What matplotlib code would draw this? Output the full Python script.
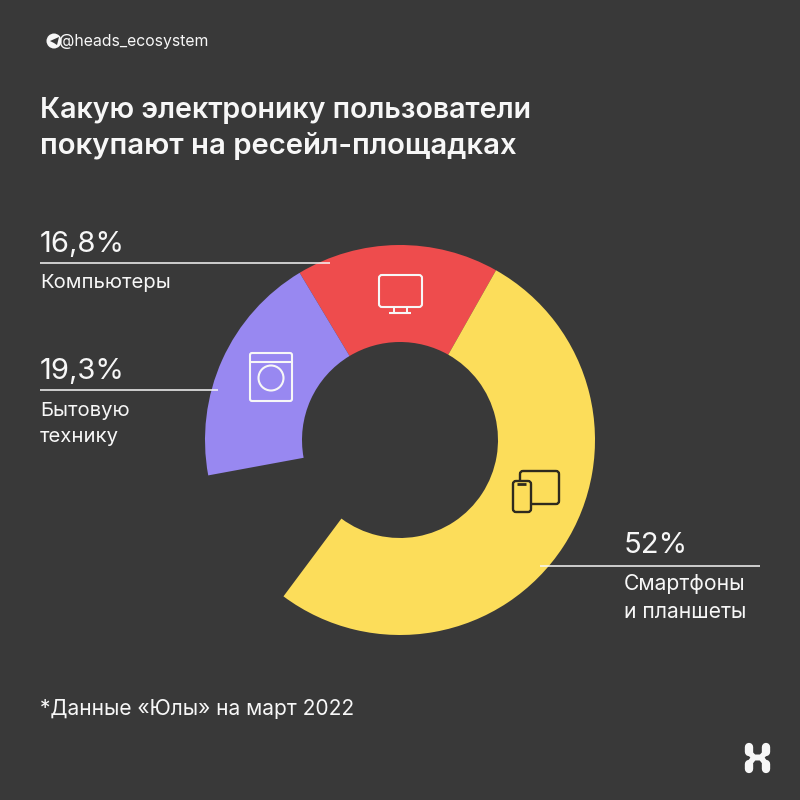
import matplotlib.pyplot as plt
from matplotlib.patches import Circle, FancyBboxPatch, Polygon

plt.rcParams['font.family'] = ['Inter', 'DejaVu Sans']

# shares in percent, the rest of the ring is left empty
categories = ['Компьютеры', 'Бытовую\nтехнику', 'Смартфоны\nи планшеты']
values = [16.8, 19.3, 52]
value_labels = ['16,8%', '19,3%', '52%']
colors = ['#EE4C4D', '#9888F1', '#FCDD5A']

BG = '#393939'
WHITE = '#F7F7F7'
DARK = '#2E2A1E'

# y in the picture runs downward, the axes run upward
def Y(y):
	return 800 - y

def rbox(ax, x0, y0, x1, y1, r, ec, fc='none', lw=1.5, z=5):
	ax.add_patch(FancyBboxPatch((x0 + r, Y(y1) + r), x1 - x0 - 2 * r, y1 - y0 - 2 * r,
		boxstyle='round,pad=%f,rounding_size=%f' % (r, r), ec=ec, fc=fc, lw=lw, zorder=z))

def line(ax, xs, ys, color=WHITE, lw=1.1, z=6, cap='butt'):
	ax.plot(xs, [Y(v) for v in ys], color=color, lw=lw, zorder=z, solid_capstyle=cap)

fig = plt.figure(figsize=(8, 8), dpi=100, facecolor=BG)
ax = fig.add_axes([0, 0, 1, 1])
ax.set_facecolor(BG)

# ring, drawn counterclockwise from the red slice, gap before the yellow one
gap = 100 - sum(values)
wedges, _ = ax.pie([values[0], values[1], gap, values[2]],
	colors=[colors[0], colors[1], 'none', colors[2]],
	startangle=60.5, center=(400, Y(440)), radius=195,
	wedgeprops=dict(width=97, linewidth=0))
ax.set_xlim(0, 800)
ax.set_ylim(0, 800)
ax.axis('off')

# header
ax.add_patch(Circle((54, Y(41)), 7.5, fc=WHITE, ec='none'))
ax.add_patch(Polygon([(50, Y(41)), (59, Y(37)), (57, Y(45)), (54, Y(43))], fc=BG, ec='none', zorder=3))
ax.text(59, Y(41), '@heads_ecosystem', color=WHITE, fontsize=11.4, va='center', ha='left')
ax.text(40, Y(118), 'Какую электронику пользователи', color=WHITE, fontsize=20.6,
	fontweight='semibold', va='baseline', ha='left')
ax.text(40, Y(154), 'покупают на ресейл-площадках', color=WHITE, fontsize=21.1,
	fontweight='semibold', va='baseline', ha='left')

# callouts
ax.text(40, Y(252), value_labels[0], color=WHITE, fontsize=21, va='baseline')
line(ax, [40, 330], [263, 263])
ax.text(40, Y(283), categories[0], color=WHITE, fontsize=14.6, va='center')

ax.text(40, Y(379), value_labels[1], color=WHITE, fontsize=21, va='baseline')
line(ax, [40, 218], [390, 390])
ax.text(40, Y(424), categories[1], color=WHITE, fontsize=14.6, va='center', linespacing=1.55)

ax.text(624, Y(553), value_labels[2], color=WHITE, fontsize=21, va='baseline')
line(ax, [540, 760], [566, 566])
ax.text(624, Y(598), categories[2], color=WHITE, fontsize=15.2, va='center', linespacing=1.46)

ax.text(40, Y(709), '*Данные «Юлы» на март 2022', color=WHITE, fontsize=15.05, va='center')

# monitor icon
rbox(ax, 379, 275, 422, 307, 3, WHITE)
line(ax, [394, 394], [307, 313], lw=1.4)
line(ax, [407, 407], [307, 313], lw=1.4)
line(ax, [389, 411], [313, 313], lw=1.5)

# washer icon
rbox(ax, 250, 353, 292, 401, 2, WHITE)
line(ax, [250, 292], [362, 362], lw=1.5)
ax.add_patch(Circle((271, Y(378)), 12.5, fc='none', ec=WHITE, lw=1.5, zorder=6))

# tablet and phone icon
rbox(ax, 520, 471, 559, 504, 3, DARK, lw=1.7)
rbox(ax, 513, 481, 531, 512, 3, DARK, fc=colors[2], lw=1.7, z=6)
line(ax, [517, 526], [484, 484], color=DARK, lw=2, z=7)

# logo
line(ax, [749, 749], [747, 752], lw=6, cap='round')
line(ax, [766, 766], [747, 752], lw=6, cap='round')
line(ax, [749, 749], [764, 769], lw=6, cap='round')
line(ax, [766, 766], [764, 769], lw=6, cap='round')
line(ax, [749, 754, 761, 766], [752, 757.5, 757.5, 752], lw=4)
line(ax, [749, 754, 761, 766], [764, 757.5, 757.5, 764], lw=4)

fig.savefig('out.png', dpi=100, facecolor=BG)
